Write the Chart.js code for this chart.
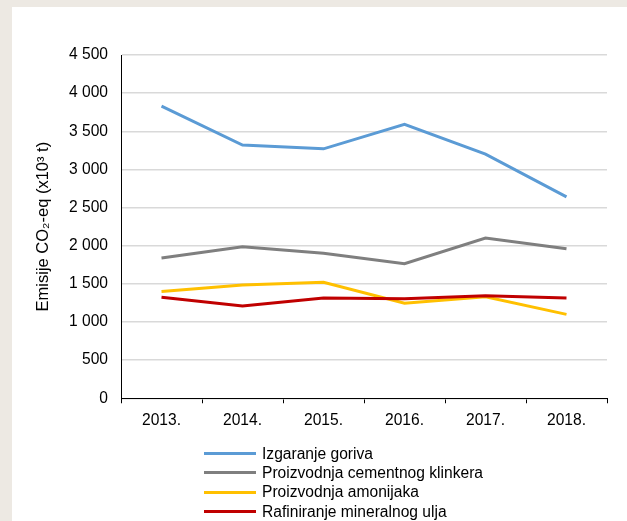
<!DOCTYPE html>
<html lang="hr">
<head>
<meta charset="utf-8">
<title>Emisije CO2-eq</title>
<script src="https://cdn.jsdelivr.net/npm/chart.js@4.4.1/dist/chart.umd.min.js"></script>
<style>
  html, body { margin: 0; padding: 0; }
  body { width: 627px; height: 521px; background: #EDE9E3; position: relative; overflow: hidden;
         font-family: "Liberation Sans", Arial, sans-serif; }
  #panel { position: absolute; left: 12px; top: 7px; width: 615px; height: 514px; background: #ffffff; }
  #chart { position: absolute; left: 0; top: 0; }
  #legend { position: absolute; left: 192px; top: 437px; margin: 0; padding: 0; list-style: none; }
  #legend li { display: flex; align-items: center; height: 19.3px; font-size: 15.6px; color: #000; white-space: nowrap; }
  #legend .swatch { width: 52px; height: 3px; margin-right: 6px; flex: none; }
</style>
</head>
<body>
<div id="panel">
  <canvas id="chart" width="615" height="514"></canvas>
  <ul id="legend"></ul>
</div>
<script>
// Years on the category axis
const years = ['2013.', '2014.', '2015.', '2016.', '2017.', '2018.'];

// Emissions by source, thousand tonnes CO2-eq
const fuelCombustion = [3830, 3320, 3270, 3590, 3200, 2640];
const cementClinker  = [1840, 1985, 1900, 1765, 2100, 1960];
const ammonia        = [1400, 1485, 1520, 1245, 1330, 1100];
const oilRefining    = [1325, 1210, 1315, 1305, 1345, 1315];

const seriesNames = [
  'Izgaranje goriva',
  'Proizvodnja cementnog klinkera',
  'Proizvodnja amonijaka',
  'Rafiniranje mineralnog ulja'
];
const seriesValues = [fuelCombustion, cementClinker, ammonia, oilRefining];
const seriesColors = ['#5B9BD5', '#7F7F7F', '#FFC000', '#C00000'];

// Value axis range
const yMin = 0;
const yMax = 4500;
const yStep = 500;

const FONT = '"Liberation Sans", Arial, sans-serif';
const FONT_SIZE = 15.6;

// thousands separated by a space: 4500 -> "4 500"
function formatThousands(v) {
  return String(v).replace(/\B(?=(\d{3})+(?!\d))/g, ' ');
}

const datasets = seriesNames.map((name, i) => ({
  label: name,
  data: seriesValues[i],
  borderColor: seriesColors[i],
  backgroundColor: seriesColors[i],
  borderWidth: 3,
  pointRadius: 0,
  pointHoverRadius: 0,
  tension: 0,
  fill: false,
  // later series are painted over earlier ones
  order: seriesNames.length - i
}));

const chart = new Chart(document.getElementById('chart'), {
  type: 'line',
  data: { labels: years, datasets },
  options: {
    responsive: false,
    animation: false,
    events: [],
    layout: { padding: { left: 0, top: 48, right: 20, bottom: 83 } },
    plugins: {
      legend: { display: false },
      tooltip: { enabled: false }
    },
    scales: {
      x: {
        type: 'category',
        offset: true,
        grid: {
          offset: true,
          drawOnChartArea: false,
          drawTicks: true,
          tickLength: 5,
          color: '#000000',
          lineWidth: 1
        },
        border: { display: true, color: '#000000', width: 1 },
        ticks: {
          color: '#000000',
          padding: 8,
          maxRotation: 0,
          font: { family: FONT, size: FONT_SIZE }
        }
      },
      y: {
        min: yMin,
        max: yMax,
        afterFit(scale) { scale.width = 109; },
        grid: {
          drawTicks: false,
          color: '#D9D9D9',
          lineWidth: 1.5
        },
        border: { display: true, color: '#000000', width: 1 },
        ticks: {
          stepSize: yStep,
          color: '#000000',
          padding: 13,
          font: { family: FONT, size: FONT_SIZE },
          callback: (v) => formatThousands(v)
        },
        title: {
          display: true,
          text: 'Emisije CO₂-eq (x10³ t)',
          color: '#000000',
          padding: { top: 22, bottom: 0 },
          font: { family: FONT, size: 16.5, weight: 'normal' }
        }
      }
    }
  }
});

// Legend as a single column beneath the plot, built from the chart's datasets
const legendEl = document.getElementById('legend');
chart.data.datasets.forEach((ds) => {
  const li = document.createElement('li');
  const sw = document.createElement('span');
  sw.className = 'swatch';
  sw.style.background = ds.borderColor;
  const txt = document.createElement('span');
  txt.textContent = ds.label;
  li.appendChild(sw);
  li.appendChild(txt);
  legendEl.appendChild(li);
});
</script>
</body>
</html>
